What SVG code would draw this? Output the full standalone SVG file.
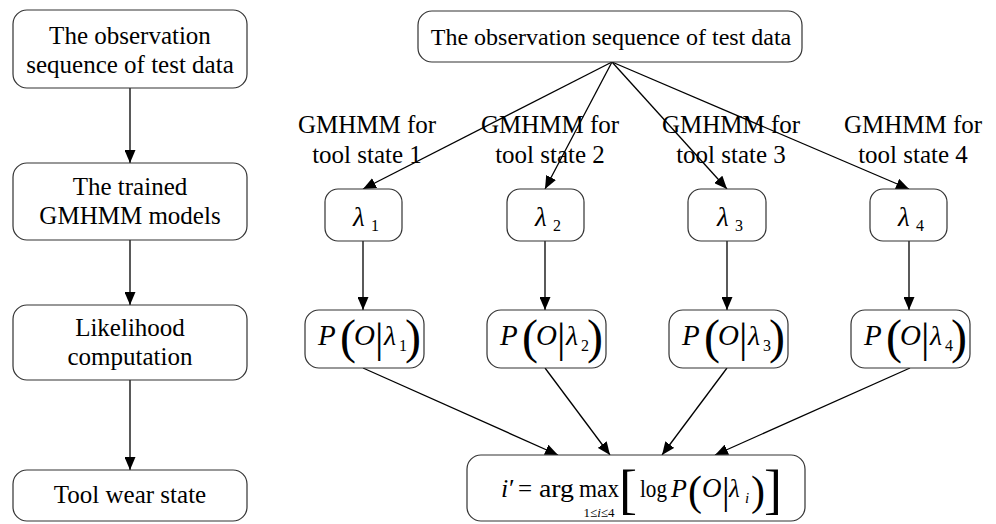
<svg xmlns="http://www.w3.org/2000/svg" width="996" height="524" viewBox="0 0 996 524" font-family="'Liberation Serif', 'Times New Roman', 'DejaVu Serif', serif">
<style>
.box{fill:#fff;stroke:#333;stroke-width:1.2}
text{font-family:'Liberation Serif', 'Times New Roman', 'DejaVu Serif', serif;fill:#000}
.t{font-size:25px;text-anchor:middle}
.i{font-style:italic}
.c{stroke:#000;stroke-width:1.3;fill:none;marker-end:url(#ah)}
</style>
<defs>
<marker id="ah" markerUnits="userSpaceOnUse" markerWidth="13" markerHeight="11" refX="13" refY="5.5" orient="auto">
<path d="M0,0 L13,5.5 L0,11 z" fill="#000"/>
</marker>
</defs>
<rect width="996" height="524" fill="#fff"/>

<g id="connectors">
<line class="c" x1="130" y1="88" x2="130" y2="163"/>
<line class="c" x1="130" y1="240" x2="130" y2="305"/>
<line class="c" x1="130" y1="380" x2="130" y2="470"/>
<line class="c" x1="612" y1="62" x2="363" y2="189"/>
<line class="c" x1="612" y1="62" x2="545" y2="189"/>
<line class="c" x1="612" y1="62" x2="727" y2="189"/>
<line class="c" x1="612" y1="62" x2="909" y2="189"/>
<line class="c" x1="363" y1="241" x2="363" y2="310"/>
<line class="c" x1="545" y1="241" x2="545" y2="310"/>
<line class="c" x1="727" y1="241" x2="727" y2="310"/>
<line class="c" x1="909" y1="241" x2="909" y2="310"/>
<line class="c" x1="363" y1="368" x2="558" y2="455"/>
<line class="c" x1="545" y1="368" x2="610" y2="455"/>
<line class="c" x1="727" y1="368" x2="662" y2="455"/>
<line class="c" x1="910" y1="368" x2="715" y2="455"/>
</g>

<g id="left-obs">
<rect class="box" x="13" y="10" width="234" height="78" rx="14"/>
<text class="t" x="130" y="44">The observation</text>
<text class="t" x="130" y="73">sequence of test data</text>
</g>
<g id="left-trained">
<rect class="box" x="13" y="163" width="234" height="77" rx="14"/>
<text class="t" x="130" y="195">The trained</text>
<text class="t" x="130" y="224">GMHMM models</text>
</g>
<g id="left-likelihood">
<rect class="box" x="13" y="305" width="234" height="75" rx="14"/>
<text class="t" x="130" y="336">Likelihood</text>
<text class="t" x="130" y="365">computation</text>
</g>
<g id="left-wear">
<rect class="box" x="13" y="470" width="234" height="51" rx="14"/>
<text class="t" x="130" y="503">Tool wear state</text>
</g>

<g id="top-obs">
<rect class="box" x="418" y="11" width="384" height="51" rx="14"/>
<text class="t" x="611" y="45" font-size="24" style="font-size:24px">The observation sequence of test data</text>
</g>

<g id="labels">
<text class="t" x="367" y="133">GMHMM for</text>
<text class="t" x="367" y="163">tool state 1</text>
<text class="t" x="550" y="133">GMHMM for</text>
<text class="t" x="550" y="163">tool state 2</text>
<text class="t" x="731" y="133">GMHMM for</text>
<text class="t" x="731" y="163">tool state 3</text>
<text class="t" x="913" y="133">GMHMM for</text>
<text class="t" x="913" y="163">tool state 4</text>
</g>

<g id="lambda1">
<rect class="box" x="325" y="189" width="77" height="52" rx="13"/>
<text class="i" x="353" y="226" font-size="27">λ</text><text x="371" y="231" font-size="16">1</text>
</g>
<g id="lambda2">
<rect class="box" x="507" y="189" width="77" height="52" rx="13"/>
<text class="i" x="535" y="226" font-size="27">λ</text><text x="553" y="231" font-size="16">2</text>
</g>
<g id="lambda3">
<rect class="box" x="688" y="189" width="78" height="52" rx="13"/>
<text class="i" x="717" y="226" font-size="27">λ</text><text x="735" y="231" font-size="16">3</text>
</g>
<g id="lambda4">
<rect class="box" x="870" y="189" width="77" height="52" rx="13"/>
<text class="i" x="898" y="226" font-size="27">λ</text><text x="916" y="231" font-size="16">4</text>
</g>

<g id="p1" transform="translate(305,310)">
<rect class="box" x="0" y="0" width="119" height="58" rx="14"/>
<text class="i" x="13" y="35" font-size="29">P</text>
<text x="35" y="43" font-size="48">(</text>
<text class="i" x="49" y="35" font-size="29">O</text>
<text x="70" y="42" font-size="42">|</text>
<text class="i" x="79" y="35" font-size="28">λ</text>
<text x="94" y="41" font-size="16">1</text>
<text x="100" y="43" font-size="48">)</text>
</g>
<g id="p2" transform="translate(487,310)">
<rect class="box" x="0" y="0" width="119" height="58" rx="14"/>
<text class="i" x="13" y="35" font-size="29">P</text>
<text x="35" y="43" font-size="48">(</text>
<text class="i" x="49" y="35" font-size="29">O</text>
<text x="70" y="42" font-size="42">|</text>
<text class="i" x="79" y="35" font-size="28">λ</text>
<text x="94" y="41" font-size="16">2</text>
<text x="100" y="43" font-size="48">)</text>
</g>
<g id="p3" transform="translate(669,310)">
<rect class="box" x="0" y="0" width="119" height="58" rx="14"/>
<text class="i" x="13" y="35" font-size="29">P</text>
<text x="35" y="43" font-size="48">(</text>
<text class="i" x="49" y="35" font-size="29">O</text>
<text x="70" y="42" font-size="42">|</text>
<text class="i" x="79" y="35" font-size="28">λ</text>
<text x="94" y="41" font-size="16">3</text>
<text x="100" y="43" font-size="48">)</text>
</g>
<g id="p4" transform="translate(851,310)">
<rect class="box" x="0" y="0" width="119" height="58" rx="14"/>
<text class="i" x="13" y="35" font-size="29">P</text>
<text x="35" y="43" font-size="48">(</text>
<text class="i" x="49" y="35" font-size="29">O</text>
<text x="70" y="42" font-size="42">|</text>
<text class="i" x="79" y="35" font-size="28">λ</text>
<text x="94" y="41" font-size="16">4</text>
<text x="100" y="43" font-size="48">)</text>
</g>

<g id="argmax">
<rect class="box" x="467" y="455" width="338" height="66" rx="14"/>
<text class="i" x="501" y="497" font-size="26">i</text>
<text x="509" y="497" font-size="26">′</text>
<text x="518" y="497" font-size="25">=</text>
<text x="539" y="497" font-size="26" textLength="35" lengthAdjust="spacingAndGlyphs">arg</text>
<text x="579" y="497" font-size="26" textLength="40" lengthAdjust="spacingAndGlyphs">max</text>
<text x="599" y="517" font-size="13" text-anchor="middle">1≤<tspan font-style="italic">i</tspan>≤4</text>
<text x="619" y="508" font-size="54">[</text>
<text x="640" y="497" font-size="25" textLength="27" lengthAdjust="spacingAndGlyphs">log</text>
<text class="i" x="671" y="497" font-size="26">P</text>
<text x="688" y="505" font-size="42">(</text>
<text class="i" x="702" y="497" font-size="27">O</text>
<text x="722" y="504" font-size="38">|</text>
<text class="i" x="729" y="497" font-size="25">λ</text>
<text class="i" x="745" y="503" font-size="15">i</text>
<text x="751" y="505" font-size="42">)</text>
<text x="764" y="508" font-size="54">]</text>
</g>
</svg>
